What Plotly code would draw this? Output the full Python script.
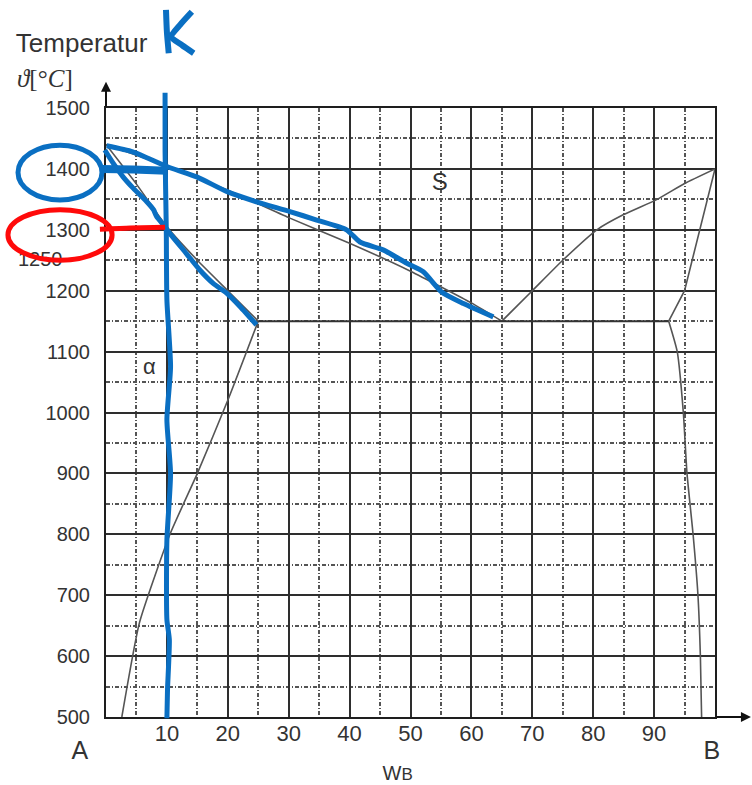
import plotly.graph_objects as go

# ---- phase boundaries: composition w_B (%) and temperature (°C) ----
liquidus_a_x = [0, 10, 20, 30, 40, 50, 60, 65]
liquidus_a_t = [1440, 1405, 1365, 1320, 1278, 1232, 1180, 1150]
solidus_a_x = [0, 5, 10, 15, 20, 25]
solidus_a_t = [1440, 1375, 1305, 1250, 1200, 1150]
solvus_a_x = [25, 20, 15, 10.5, 5.5, 2.6]
solvus_a_t = [1150, 1020, 900, 800, 655, 500]
liquidus_b_x = [65, 70, 75, 80.6, 85, 90.5, 95, 100]
liquidus_b_t = [1150, 1200, 1250, 1300, 1325, 1350, 1376, 1400]
solidus_b_x = [100, 95, 92.4]
solidus_b_t = [1400, 1200, 1150]
solvus_b_x = [92.4, 93.8, 94.8, 95.4, 96.4, 97.2, 97.6, 97.8]
solvus_b_t = [1150, 1100, 1000, 900, 800, 700, 600, 500]
eutectic_x = [25, 92.4]
eutectic_t = [1150, 1150]

# ---- axis ticks ----
x_ticks = [10, 20, 30, 40, 50, 60, 70, 80, 90]
x_minor = [5, 15, 25, 35, 45, 55, 65, 75, 85, 95]
y_ticks = [500, 600, 700, 800, 900, 1000, 1100, 1200, 1300, 1400, 1500]
y_minor = [550, 650, 750, 850, 950, 1050, 1150, 1250, 1350, 1450]

# ---- pen marks (same units: w_B %, °C) ----
pen_k_line_x = [9.7, 9.7, 9.9, 10.0, 10.6, 10.0, 10.6, 10.0, 10.0, 10.4, 10.1, 10.0]
pen_k_line_t = [1525, 1430, 1300, 1185, 1075, 988, 900, 790, 660, 627, 545, 498]
pen_letter_stem_x = [9.85, 10.0, 10.3]
pen_letter_stem_t = [1661, 1625, 1590]
pen_letter_arm_x = [14.1, 12.2, 10.7, 12.5, 14.4]
pen_letter_arm_t = [1658, 1637, 1617, 1603, 1590]
pen_liquidus_x = [0.1, 4.4, 10.0, 14.9, 19.8, 24.7, 30.2, 34.6, 39.5, 41.7, 45.5,
                  49.4, 52.1, 55.1, 58.7, 63.6]
pen_liquidus_t = [1438, 1428, 1404, 1387, 1363, 1346, 1330, 1316, 1300, 1280, 1267,
                  1245, 1231, 1198, 1179, 1157]
pen_solidus_x = [-0.2, 1.2, 2.8, 4.5, 6.7, 7.8, 8.3, 9.7, 10.0, 13.2, 15.4, 17.6,
                 19.8, 22.0, 24.7]
pen_solidus_t = [1431, 1409, 1387, 1368, 1346, 1333, 1322, 1305, 1300, 1261, 1234,
                 1212, 1196, 1174, 1144]
pen_liq_mark_x = [-0.7, 4.5, 10.0]
pen_liq_mark_t = [1400, 1399, 1397]
pen_sol_mark_x = [-1.0, 4.0, 9.7]
pen_sol_mark_t = [1301, 1303, 1304]

BLUE = "#0a6fc2"
RED = "#ff0a0a"
INK = "#333333"
PHASE = "#555555"
SANS = "Liberation Sans, Arial, sans-serif"
SERIF = "Liberation Serif, DejaVu Serif, serif"

W, H = 752, 785
# plot area in pixels
PX0, PX1, PY0, PY1 = 106, 715, 108, 717
X0, X1, T0, T1 = 0, 100, 500, 1500
sx = (PX1 - PX0) / (X1 - X0)
sy = (PY1 - PY0) / (T1 - T0)

fig = go.Figure()


def phase(x, t, width=1.6, color=PHASE, smooth=True):
    line = dict(color=color, width=width)
    if smooth:
        line.update(shape="spline", smoothing=0.5)
    fig.add_trace(go.Scatter(x=x, y=t, mode="lines", line=line,
                             hoverinfo="skip", xaxis="x", yaxis="y"))


phase(liquidus_a_x, liquidus_a_t)
phase(solidus_a_x, solidus_a_t)
phase(solvus_a_x, solvus_a_t)
phase(liquidus_b_x, liquidus_b_t)
phase(solidus_b_x, solidus_b_t, smooth=False)
phase(solvus_b_x, solvus_b_t)
phase(eutectic_x, eutectic_t, width=2, color="#333333", smooth=False)

# field labels
fig.add_trace(go.Scatter(x=[54.8], y=[1375], mode="text", text=["S"],
                         textfont=dict(family=SANS, size=24, color=INK),
                         hoverinfo="skip", xaxis="x", yaxis="y"))
fig.add_trace(go.Scatter(x=[7.1], y=[1073], mode="text", text=["α"],
                         textfont=dict(family=SANS, size=22, color=INK),
                         hoverinfo="skip", xaxis="x", yaxis="y"))


def pen(x, t, color=BLUE, width=5):
    fig.add_trace(go.Scatter(x=x, y=t, mode="lines",
                             line=dict(color=color, width=width, shape="spline",
                                       smoothing=0.6),
                             hoverinfo="skip", xaxis="x2", yaxis="y2"))


def label(x, t, s, size, family=SANS, pos="middle center"):
    fig.add_trace(go.Scatter(x=[x], y=[t], mode="text", text=[s], textposition=pos,
                             textfont=dict(family=family, size=size, color=INK),
                             hoverinfo="skip", xaxis="x2", yaxis="y2"))


# outer labels
label(-14.8, 1602, "Temperatur", 26, pos="middle right")
label(-14.6, 1544, "<i>ϑ</i>[°<i>C</i>]", 25, family=SERIF, pos="middle right")
label(-10.8, 1248, "1250", 20)
label(-4.3, 442, "A", 25)
label(99.5, 442, "B", 25)
label(47.9, 405, "W<span style='font-size:17px'>B</span>", 20)

# pen marks
pen(pen_k_line_x, pen_k_line_t)
pen(pen_letter_stem_x, pen_letter_stem_t, width=6)
pen(pen_letter_arm_x, pen_letter_arm_t, width=6)
pen(pen_liquidus_x, pen_liquidus_t)
pen(pen_solidus_x, pen_solidus_t)
pen(pen_liq_mark_x, pen_liq_mark_t, width=8)
pen(pen_sol_mark_x, pen_sol_mark_t, color=RED, width=5)

shapes = [
    dict(type="circle", xref="x2", yref="y2", x0=-14.45, x1=-0.66, y0=1349, y1=1439,
         line=dict(color=BLUE, width=5), layer="above"),
    dict(type="circle", xref="x2", yref="y2", x0=-16.1, x1=1.0, y0=1250, y1=1333,
         line=dict(color=RED, width=5), layer="above"),
]

annotations = [
    # axis arrows
    dict(x=0, y=1543, xref="x2", yref="y2", ax=0, ay=1500, axref="x2", ayref="y2",
         showarrow=True, arrowhead=2, arrowsize=1, arrowwidth=2, arrowcolor="#111",
         text=""),
    dict(x=105.9, y=500, xref="x2", yref="y2", ax=100, ay=500, axref="x2", ayref="y2",
         showarrow=True, arrowhead=2, arrowsize=1, arrowwidth=2, arrowcolor="#111",
         text=""),
]

grid_major = dict(showgrid=True, gridcolor="#2e2e2e", gridwidth=2)
minor_style = dict(showgrid=True, gridcolor="#555555", gridwidth=1.6,
                   griddash="4px,2px,1px,2px")

fig.update_layout(
    width=W, height=H,
    margin=dict(l=0, r=0, t=0, b=0, pad=0, autoexpand=False),
    paper_bgcolor="white",
    plot_bgcolor="rgba(0,0,0,0)",
    showlegend=False,
    shapes=shapes,
    annotations=annotations,
    xaxis=dict(domain=[PX0 / W, PX1 / W], range=[X0, X1],
               tickmode="array", tickvals=x_ticks, ticktext=[str(v) for v in x_ticks],
               tickfont=dict(family=SANS, size=22, color=INK),
               ticklabelstandoff=-4, ticks="", automargin=False,
               showline=True, linecolor="#1e1e1e", linewidth=2, mirror=True,
               zeroline=False, anchor="y",
               minor=dict(tickmode="array", tickvals=x_minor, **minor_style),
               **grid_major),
    yaxis=dict(domain=[(H - PY1) / H, (H - PY0) / H], range=[T0, T1],
               tickmode="array", tickvals=y_ticks, ticktext=[str(v) for v in y_ticks],
               tickfont=dict(family=SANS, size=20, color=INK),
               ticklabelstandoff=10, ticks="", automargin=False,
               showline=True, linecolor="#1e1e1e", linewidth=2, mirror=True,
               zeroline=False, anchor="x",
               minor=dict(tickmode="array", tickvals=y_minor, **minor_style),
               **grid_major),
    xaxis2=dict(domain=[0, 1], range=[X0 - PX0 / sx, X1 + (W - PX1) / sx],
                visible=False, anchor="y2", showgrid=False, zeroline=False,
                automargin=False),
    yaxis2=dict(domain=[0, 1], range=[T0 - (H - PY1) / sy, T1 + PY0 / sy],
                visible=False, anchor="x2", showgrid=False, zeroline=False,
                automargin=False),
)

fig.write_html("out.html")
